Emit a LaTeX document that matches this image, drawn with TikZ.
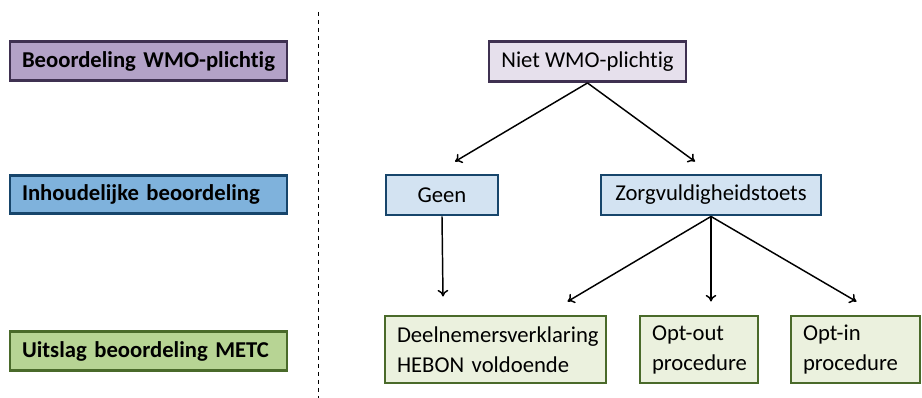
\documentclass[tikz,border=0pt]{standalone}
\usepackage{fontspec}
\setmainfont{Carlito}[Ligatures=NoCommon]
\usepackage{xcolor}
\usetikzlibrary{arrows.meta,calc}

\definecolor{purpdark}{HTML}{3F3151}
\definecolor{purpmid}{HTML}{B3A2C7}
\definecolor{purplight}{HTML}{E6E0EC}
\definecolor{bluedark}{HTML}{17456B}
\definecolor{bluemid}{HTML}{7FB2DC}
\definecolor{bluelight}{HTML}{D3E3F2}
\definecolor{greendark}{HTML}{4A6A2A}
\definecolor{greenmid}{HTML}{B7D494}
\definecolor{greenlight}{HTML}{EBF1DE}

\tikzset{
    box/.style={draw, line width=2.2pt, rectangle, inner sep=0pt,
        font=\fontsize{17}{22.5}\selectfont},
    levelbox/.style={box, minimum width=207.75pt, minimum height=29pt,
        align=left, text width=189.75pt, inner xsep=9pt,
        font=\fontsize{17}{22.5}\selectfont\bfseries},
    outbox/.style={box, fill=greenlight, draw=greendark, align=left,
        minimum height=50.25pt, text width=#1, inner xsep=9pt},
    arr/.style={-{To[length=5pt,width=8pt]}, line width=1.1pt}
}

\begin{document}
\begin{tikzpicture}[x=0.75pt, y=-0.75pt]

    \useasboundingbox (0,0) rectangle (922,398);

    % left column
    \node[levelbox, fill=purpmid, draw=purpdark] (lvlwmo) at (148.5,61) {Beoordeling WMO-plichtig};
    \node[levelbox, fill=bluemid, draw=bluedark] (lvlinh) at (148.5,194.5) {Inhoudelijke beoordeling};
    \node[levelbox, fill=greenmid, draw=greendark] (lvluit) at (148.5,351) {Uitslag beoordeling METC};

    \draw [dashed, line width=0.6pt] (318,12) -- (318,398);

    % right column
    \node[box, fill=purplight, draw=purpdark, minimum width=147.75pt, minimum height=30pt] (niet) at (587.5,61.5) {Niet WMO-plichtig};
    \node[box, fill=bluelight, draw=bluedark, minimum width=84pt, minimum height=30pt] (geen) at (442,195) {Geen};
    \node[box, fill=bluelight, draw=bluedark, minimum width=165pt, minimum height=30pt] (zorg) at (711,195) {Zorgvuldigheidstoets};

    \node[outbox=147.75pt] (deeln) at (495.5,349.5) {Deelnemersverklaring\\HEBON voldoende};
    \node[outbox=70.5pt] (optout) at (699,349.5) {Opt-out\\procedure};
    \node[outbox=78.75pt] (optin) at (855.5,349.5) {Opt-in\\procedure};

    % arrows
    \draw [arr] (niet.south) -- ($(geen.north)+(13,-12)$);
    \draw [arr] (niet.south) -- ($(zorg.north)+(-16,-12)$);
    \draw [arr] (geen.south) -- ($(geen.south |- deeln.north)+(1,-18)$);
    \draw [arr] (zorg.south) -- ($(deeln.north)+(72,-13)$);
    \draw [arr] (zorg.south) -- ($(zorg.south |- optout.north)+(0,-13)$);
    \draw [arr] (zorg.south) -- ($(optin.north)+(1,-13)$);

\end{tikzpicture}
\end{document}
